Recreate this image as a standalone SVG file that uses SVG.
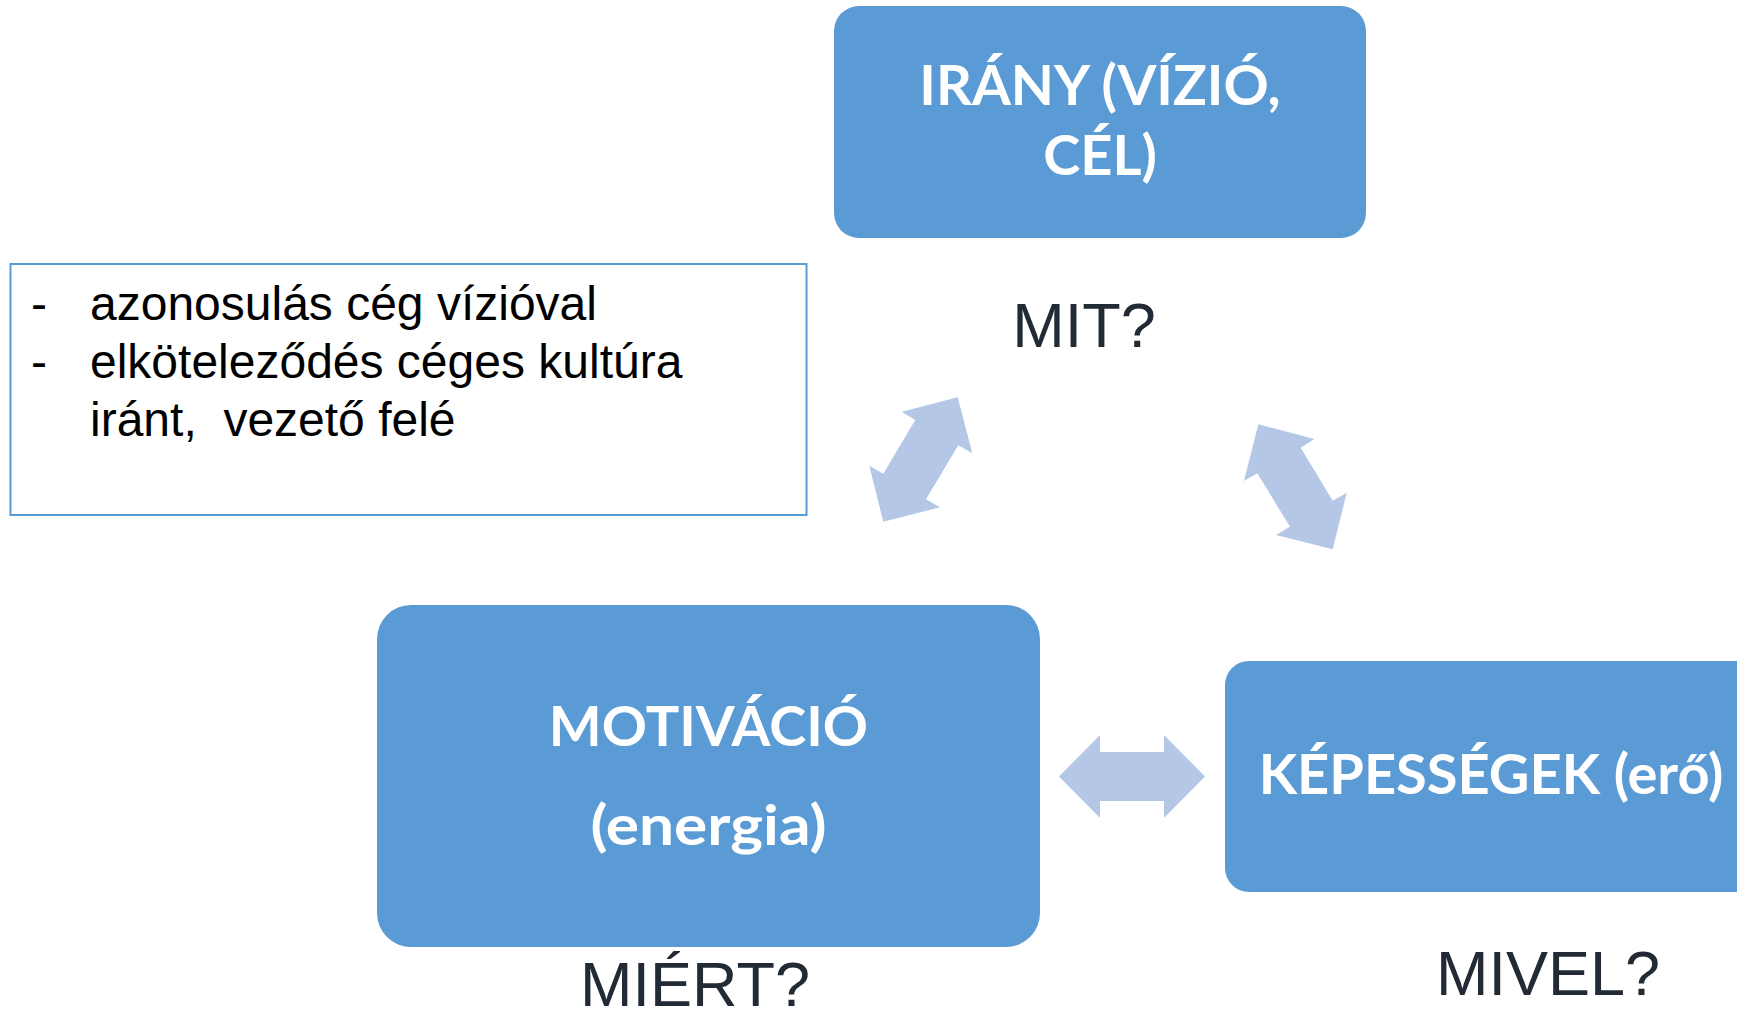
<svg xmlns="http://www.w3.org/2000/svg" width="1737" height="1020" viewBox="0 0 1737 1020">
<style>
.box{fill:#5b9bd5;}
.bt{font-family:Lato,"Open Sans","Liberation Sans",sans-serif;font-weight:700;font-size:56px;fill:#ffffff;text-anchor:middle;}
.q{font-family:"Liberation Sans",Arial,sans-serif;font-size:63px;fill:#222a35;text-anchor:middle;}
.bul{font-family:"Liberation Sans",Arial,sans-serif;font-size:48px;fill:#000000;}
.arr{fill:#b4c7e7;}
</style>
<rect width="1737" height="1020" fill="#ffffff"/>
<g id="irany">
<rect class="box" x="834" y="6" width="532" height="232" rx="25"/>
<text class="bt" x="1100" y="105">IRÁNY (VÍZIÓ,</text>
<text class="bt" x="1100" y="175">CÉL)</text>
</g>
<text class="q" x="1084" y="347">MIT?</text>
<g id="note">
<rect x="10.5" y="264" width="796" height="251" fill="#ffffff" stroke="#5b9bd5" stroke-width="2"/>
<text class="bul" x="31" y="320">-</text>
<text class="bul" x="90" y="320">azonosulás cég vízióval</text>
<text class="bul" x="31" y="378">-</text>
<text class="bul" x="90" y="378">elköteleződés céges kultúra</text>
<text class="bul" x="90" y="436" xml:space="preserve">iránt,  vezető felé</text>
</g>
<g id="motivacio">
<rect class="box" x="377" y="605" width="663" height="342" rx="34"/>
<text class="bt" x="708.5" y="746">MOTIVÁCIÓ</text>
<text class="bt" x="708.5" y="845" font-size="60" textLength="236" lengthAdjust="spacingAndGlyphs">(energia)</text>
</g>
<text class="q" x="695" y="1006">MIÉRT?</text>
<g id="kepessegek">
<rect class="box" x="1225" y="661" width="540" height="231" rx="24"/>
<text class="bt" x="1491" y="794">KÉPESSÉGEK (erő)</text>
</g>
<text class="q" x="1548" y="995">MIVEL?</text>
<g id="connectors">
<polygon class="arr" points="901.7,411.7 957.7,397.3 972.3,453.3 958.3,445.3 926,499.3 940,507.3 883.3,521.7 869.3,465.7 883.3,473.7 915.3,420"/>
<polygon class="arr" points="1258.3,424.3 1314.3,439 1300.7,447.7 1332.7,500.7 1346.7,492.7 1332.7,549.3 1276,535 1290,526.7 1257.3,473.3 1244,481"/>
<polygon class="arr" points="1059,776.5 1100,735 1100,752 1164,752 1164,735 1205,776.5 1164,818 1164,801 1100,801 1100,818"/>
</g>
</svg>
